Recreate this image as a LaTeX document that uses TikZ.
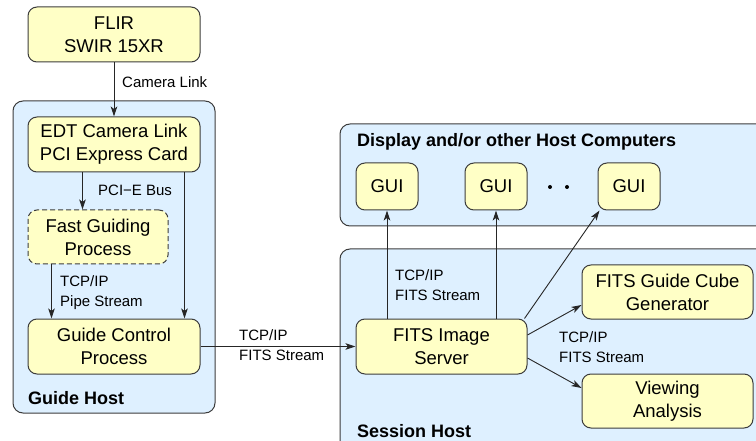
\documentclass[tikz,border=0pt]{standalone}
\usepackage{fontspec}
\setmainfont{Liberation Sans}
\usetikzlibrary{arrows.meta}
\definecolor{hostblue}{RGB}{222,240,255}
\definecolor{boxyellow}{RGB}{255,255,198}
\definecolor{edgegray}{RGB}{60,60,60}
\tikzset{
  host/.style={draw=edgegray, fill=hostblue, line width=1pt, rounded corners=10pt},
  proc/.style={draw=edgegray, fill=boxyellow, line width=1pt, rounded corners=9pt,
    align=center, inner sep=0pt, font=\fontsize{18.5}{23}\selectfont},
  lbl/.style={anchor=west, align=left, inner sep=0pt, font=\fontsize{15}{20}\selectfont},
  ttl/.style={anchor=west, inner sep=0pt, font=\fontsize{18}{22}\selectfont\bfseries},
  arr/.style={draw=black!85, line width=0.9pt, -{Stealth[length=10pt,width=6.5pt,inset=2.5pt]}},
}
\begin{document}
\begin{tikzpicture}[x=1pt,y=-1pt]
\useasboundingbox (0,0) rectangle (756,441);
\clip (0,0) rectangle (756,441);
% containers
\draw[host] (13,101) rectangle (215,413);
\draw[host] (340,124) rectangle (790,226);
\draw[host] (340,249) rectangle (790,480);
% titles
\node[ttl] (tguide) at (28,398) {Guide Host};
\node[ttl] (tdisp) at (357,142) {Display and/or other Host Computers};
\node[ttl] (tsess) at (357,431) {Session Host};
% boxes
\node[proc, minimum width=172pt, minimum height=55pt] (flir) at (114,34.5) {FLIR\\SWIR 15XR};
\node[proc, minimum width=172pt, minimum height=55pt] (edt) at (114,144.5) {EDT Camera Link\\PCI Express Card};
\node[proc, dashed, dash pattern=on 5pt off 3pt, minimum width=140pt, minimum height=54pt] (fg) at (98,237) {Fast Guiding\\Process};
\node[proc, minimum width=172pt, minimum height=55pt] (gc) at (114,346.5) {Guide Control\\Process};
\node[proc, minimum width=62pt, minimum height=47pt] (gui1) at (387,186.5) {GUI};
\node[proc, minimum width=62pt, minimum height=47pt] (gui2) at (496,186.5) {GUI};
\node[proc, minimum width=62pt, minimum height=47pt] (gui3) at (629,186.5) {GUI};
\node[proc, minimum width=171pt, minimum height=55pt] (fis) at (441.5,346.5) {FITS Image\\Server};
\node[proc, minimum width=171pt, minimum height=54pt] (cube) at (667.5,292) {FITS Guide Cube\\Generator};
\node[proc, minimum width=171pt, minimum height=54pt] (view) at (667.5,401) {Viewing\\Analysis};
% dots
\fill[black] (550,187) circle (2pt) (567,187) circle (2pt);
% connectors
\draw[arr] (flir) -- (edt);
\draw[arr] ([xshift=55pt]edt.south west) -- ([xshift=55pt]edt.south west |- fg.north);
\draw[arr] ([xshift=-16pt]edt.south east) -- ([xshift=-16pt]gc.north east);
\draw[arr] ([xshift=24pt]fg.south west) -- ([xshift=24pt]fg.south west |- gc.north);
\draw[arr] (gc.east) -- (fis.west);
\draw[arr] (fis.north -| gui1.south) -- (gui1.south);
\draw[arr] (fis.north -| gui2.south) -- (gui2.south);
\draw[arr] ([xshift=-3pt]fis.north east) -- ([xshift=2pt]gui3.south west);
\draw[arr] ([yshift=11.5pt]fis.east) -- ([yshift=-13pt]cube.west);
\draw[arr] ([yshift=-11.5pt]fis.east) -- ([yshift=13pt]view.west);
% labels
\node[lbl] (lcam) at (122,82) {Camera Link};
\node[lbl] (lpci) at (98,190) {PCI−E Bus};
\node[lbl] (lpipe) at (60,293) {TCP/IP\\Pipe Stream};
\node[lbl] (lgc) at (239,345) {TCP/IP\\FITS Stream};
\node[lbl] (lgui) at (395,285.5) {TCP/IP\\FITS Stream};
\node[lbl] (lright) at (559,347.5) {TCP/IP\\FITS Stream};
\end{tikzpicture}
\end{document}
